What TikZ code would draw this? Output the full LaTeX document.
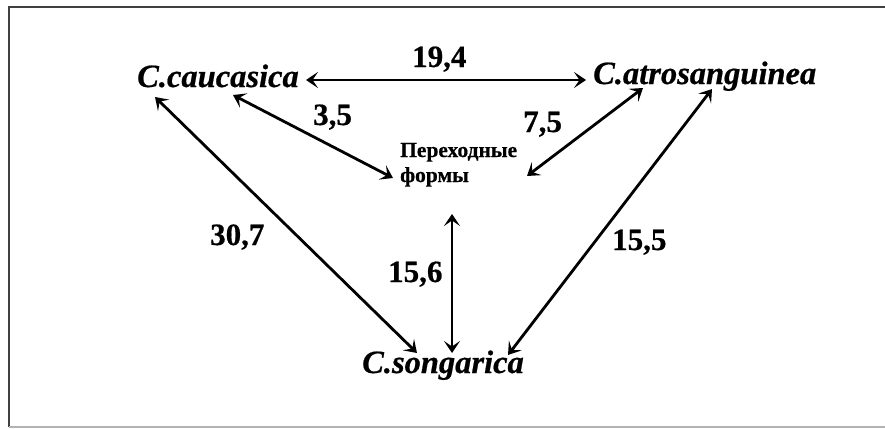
\documentclass[tikz,border=0pt]{standalone}
\usepackage{fontspec}
\setmainfont{Liberation Serif}[BoldFeatures={FakeBold=0.6},BoldItalicFeatures={FakeBold=0.6}]
\usetikzlibrary{arrows.meta}
\tikzset{
  sp/.style={font=\fontsize{32.5}{39}\selectfont\bfseries\itshape, inner sep=0pt, anchor=base west},
  num/.style={font=\fontsize{31}{36}\selectfont\bfseries, inner sep=0pt, anchor=base west},
  mid/.style={font=\fontsize{21.5}{25}\selectfont\bfseries, inner sep=0pt, anchor=base west, align=left},
  link/.style={line width=2.8pt, {Stealth[length=12pt,width=16pt,inset=5.5pt]}-{Stealth[length=12pt,width=16pt,inset=5.5pt]}},
  frame/.style={line width=2pt}
}
\begin{document}
\begin{tikzpicture}[x=1pt,y=-1pt]
\useasboundingbox (0,0) rectangle (885,428);
\draw[frame, draw=black!75] (8.5,427) -- (8.5,7.5) -- (885,7.5);
\draw[frame, draw=black!30] (8.5,427) -- (885,427);

\node[sp] (cauc) at (137,87) {C.caucasica};
\node[sp] (atro) at (593,84) {C.atrosanguinea};
\node[sp] (song) at (362,373) {C.songarica};
\node[mid] (mid) at (400,182) {Переходные\\формы};

\node[num] (n194) at (412,67) {19,4};
\node[num] (n35) at (313,125) {3,5};
\node[num] (n75) at (523,132) {7,5};
\node[num] (n307) at (210,245) {30,7};
\node[num] (n156) at (388,282) {15,6};
\node[num] (n155) at (612,250) {15,5};

\coordinate (cR) at (306,80);
\coordinate (aL) at (586,80);
\coordinate (cM) at (233,95);
\coordinate (mL) at (393,178);
\coordinate (aM) at (643,88);
\coordinate (mR) at (527,176);
\coordinate (cS) at (155,97);
\coordinate (sL) at (417,353);
\coordinate (mB) at (452,214);
\coordinate (sM) at (452,353);
\coordinate (aS) at (712,89);
\coordinate (sR) at (508,355);

\draw[link] (cR) -- (aL);
\draw[link] (cM) -- (mL);
\draw[link] (aM) -- (mR);
\draw[link] (cS) -- (sL);
\draw[link] (mB) -- (sM);
\draw[link] (aS) -- (sR);
\end{tikzpicture}
\end{document}
